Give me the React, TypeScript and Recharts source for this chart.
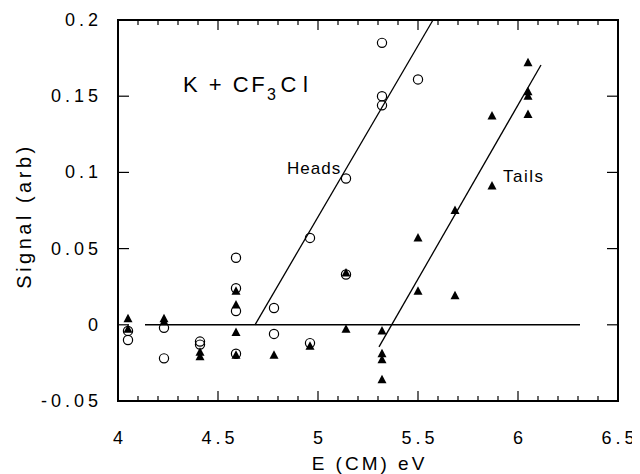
import { ScatterChart, Scatter, XAxis, YAxis, ReferenceLine, Customized } from "recharts";

// Heads (open circles): collision energy in eV and signal
const headsEnergy = [
  4.05, 4.05, 4.23, 4.23, 4.41, 4.41, 4.59, 4.59, 4.59, 4.59,
  4.78, 4.78, 4.96, 4.96, 5.14, 5.14, 5.32, 5.32, 5.32, 5.5,
];
const headsSignal = [
  -0.004, -0.01, -0.002, -0.022, -0.011, -0.013, 0.044, 0.024, 0.009, -0.019,
  0.011, -0.006, 0.057, -0.012, 0.096, 0.033, 0.185, 0.15, 0.144, 0.161,
];

// Tails (filled triangles)
const tailsEnergy = [
  4.05, 4.05, 4.23, 4.23, 4.41, 4.41, 4.59, 4.59, 4.59, 4.59,
  4.78, 4.96, 5.14, 5.14, 5.32, 5.32, 5.32, 5.32, 5.5, 5.5,
  5.685, 5.685, 5.87, 5.87, 6.05, 6.05, 6.05, 6.05,
];
const tailsSignal = [
  0.004, -0.003, 0.004, 0.002, -0.018, -0.021, 0.022, 0.013, -0.005, -0.02,
  -0.02, -0.014, 0.034, -0.003, -0.004, -0.019, -0.023, -0.036, 0.057, 0.022,
  0.075, 0.019, 0.137, 0.091, 0.172, 0.153, 0.15, 0.138,
];

// threshold fits and the zero baseline
const headsFit = [{ x: 4.685, y: 0 }, { x: 5.575, y: 0.2 }];
const tailsFit = [{ x: 5.305, y: -0.0145 }, { x: 6.115, y: 0.1705 }];
const baseline = [{ x: 4.135, y: 0 }, { x: 6.31, y: 0 }];

const xTicks = [
  4, 4.1, 4.2, 4.3, 4.4, 4.5, 4.6, 4.7, 4.8, 4.9, 5, 5.1, 5.2,
  5.3, 5.4, 5.5, 5.6, 5.7, 5.8, 5.9, 6, 6.1, 6.2, 6.3, 6.4, 6.5,
];
const xLabelTicks = [4, 4.5, 5, 5.5, 6, 6.5];
const yTicks = [-0.05, 0, 0.05, 0.1, 0.15, 0.2];

const X_MIN = 4;
const X_MAX = 6.5;
const Y_MIN = -0.05;
const Y_MAX = 0.2;

// chart layout: the plot box follows from the margin and the axis sizes
const WIDTH = 632;
const HEIGHT = 466;
const MARGIN = { top: 12, right: 22, bottom: 0, left: 0 };
const X_AXIS_HEIGHT = 73;
const Y_AXIS_WIDTH = 110;
const PLOT = {
  x: MARGIN.left + Y_AXIS_WIDTH,
  y: MARGIN.top,
  width: WIDTH - MARGIN.left - MARGIN.right - Y_AXIS_WIDTH,
  height: HEIGHT - MARGIN.top - MARGIN.bottom - X_AXIS_HEIGHT,
};

const FONT = "'Liberation Sans', Arial, Helvetica, sans-serif";

const heads = headsEnergy.map((x, i) => ({ x, y: headsSignal[i] }));
const tails = tailsEnergy.map((x, i) => ({ x, y: tailsSignal[i] }));

const isMajor = (v: number) => Math.abs(v * 2 - Math.round(v * 2)) < 1e-6;

const XLabel = ({ x, y, payload }: any) => (
  <text x={x + 2} y={y + 43} textAnchor="middle" fontSize={18} letterSpacing={4} fontFamily={FONT} fill="#000">
    {String(payload.value)}
  </text>
);

const YLabel = ({ x, y, payload }: any) => (
  <text x={x - 16} y={y + 6} textAnchor="end" fontSize={18} letterSpacing={4} fontFamily={FONT} fill="#000">
    {String(payload.value)}
  </text>
);

// box around the plot with inward ticks on all four sides, laid over the chart
const FrameOverlay = () => {
  const { x, y, width, height } = PLOT;
  const px = (v: number) => x + ((v - X_MIN) / (X_MAX - X_MIN)) * width;
  const py = (v: number) => y + ((Y_MAX - v) / (Y_MAX - Y_MIN)) * height;
  const bottom = y + height;
  const right = x + width;
  return (
    <svg
      width={WIDTH}
      height={HEIGHT}
      style={{ position: "absolute", left: 0, top: 0, pointerEvents: "none", overflow: "visible" }}
    >
      {xTicks.map((v) => {
        const len = isMajor(v) ? 10 : 5;
        return (
          <g key={`x${v}`}>
            <line x1={px(v)} x2={px(v)} y1={bottom} y2={bottom - len} stroke="#000" strokeWidth={1.2} />
            <line x1={px(v)} x2={px(v)} y1={y} y2={y + len} stroke="#000" strokeWidth={1.2} />
          </g>
        );
      })}
      {yTicks.map((v) => (
        <g key={`y${v}`}>
          <line x1={x} x2={x + 11} y1={py(v)} y2={py(v)} stroke="#000" strokeWidth={1.2} />
          <line x1={right} x2={right - 11} y1={py(v)} y2={py(v)} stroke="#000" strokeWidth={1.2} />
        </g>
      ))}
      <rect x={x} y={y} width={width} height={height} fill="none" stroke="#000" strokeWidth={2} />
    </svg>
  );
};

const OpenCircle = (p: any) => (
  <circle cx={p.cx} cy={p.cy} r={4.6} fill="none" stroke="#000" strokeWidth={1.2} />
);

const FilledTriangle = (p: any) => (
  <polygon
    points={`${p.cx},${p.cy - 5} ${p.cx - 4.5},${p.cy + 3.5} ${p.cx + 4.5},${p.cy + 3.5}`}
    fill="#000"
  />
);

// reaction label, curve names and axis titles
const Annotations = () => (
  <g fontFamily={FONT} fill="#000">
    <text x={175} y={84} fontSize={22} letterSpacing={2.5}>
      K + CF<tspan dy={8} fontSize={16}>3</tspan>
      <tspan dy={-8} dx={2}>C</tspan>
      <tspan dx={4}>l</tspan>
    </text>
    <text x={279} y={166} fontSize={17} letterSpacing={1}>Heads</text>
    <text x={495} y={174} fontSize={17} letterSpacing={1.5}>Tails</text>
    <text x={361.5} y={462} textAnchor="middle" fontSize={19} letterSpacing={3}>
      E (CM) eV
    </text>
    <text
      x={16}
      y={208}
      transform="rotate(-90 16 208)"
      textAnchor="middle"
      dominantBaseline="central"
      fontSize={20}
      letterSpacing={3.5}
    >
      Signal  (arb)
    </text>
  </g>
);

export default function App() {
  return (
    <div style={{ position: "relative", width: WIDTH, height: HEIGHT }}>
      <ScatterChart width={WIDTH} height={HEIGHT} margin={MARGIN}>
        <XAxis
          type="number"
          dataKey="x"
          domain={[X_MIN, X_MAX]}
          ticks={xLabelTicks}
          interval={0}
          height={X_AXIS_HEIGHT}
          axisLine={false}
          tickLine={false}
          tickSize={0}
          tickMargin={0}
          tick={XLabel}
        />
        <YAxis
          type="number"
          dataKey="y"
          domain={[Y_MIN, Y_MAX]}
          ticks={yTicks}
          interval={0}
          width={Y_AXIS_WIDTH}
          axisLine={false}
          tickLine={false}
          tickSize={0}
          tickMargin={0}
          tick={YLabel}
        />
        <ReferenceLine segment={baseline} stroke="#000" strokeWidth={1.4} />
        <ReferenceLine segment={headsFit} stroke="#000" strokeWidth={1.3} />
        <ReferenceLine segment={tailsFit} stroke="#000" strokeWidth={1.3} />
        <Scatter data={tails} shape={FilledTriangle} isAnimationActive={false} />
        <Scatter data={heads} shape={OpenCircle} isAnimationActive={false} />
        <Customized component={Annotations} />
      </ScatterChart>
      <FrameOverlay />
    </div>
  );
}
